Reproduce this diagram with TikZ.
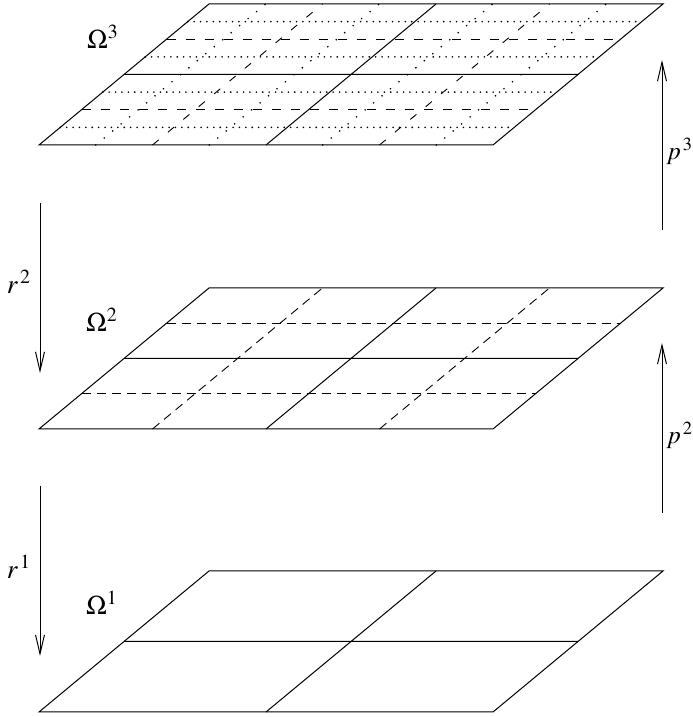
\documentclass[tikz,border=0pt,12pt]{standalone}
\usepackage{mathptmx}
\usetikzlibrary{arrows.meta}
\tikzset{
  edge/.style={line width=0.5pt},
  dashline/.style={line width=0.45pt, dash pattern=on 4.5pt off 3pt},
  dashfine/.style={line width=0.45pt, dash pattern=on 4.5pt off 5pt},
  dashslant/.style={line width=0.45pt, dash pattern=on 4pt off 6pt},
  dotline/.style={line width=0.9pt, line cap=round, dash pattern=on 0pt off 3.2pt},
  dotslant/.style={line width=0.9pt, line cap=round, dash pattern=on 0pt off 5.5pt},
  map/.style={line width=0.5pt, -{Straight Barb[length=9.5pt,width=4.5pt]}},
  lab/.style={inner sep=0pt, font=\fontsize{13.5}{16}\selectfont},
  edgelab/.style={lab, anchor=west, font=\fontsize{12.5}{15}\selectfont}
}
\begin{document}
\begin{tikzpicture}[x=0.5pt,y=0.5pt]
\useasboundingbox (0,0) rectangle (692,717);
% fine grid
\begin{scope}[shift={(19.5pt,286pt)},x={(227pt,0pt)},y={(85pt,70.5pt)}]
\foreach \t in {0.125,0.375,0.625,0.875} {
  \draw[dotline] (0,\t) -- (1,\t);
  \draw[dotslant] (\t,0) -- (\t,1);
}
\foreach \t in {0.25,0.75} {
  \draw[dashfine] (0,\t) -- (1,\t);
  \draw[dashslant] (\t,0) -- (\t,1);
}
\draw[edge] (0,0) -- (1,0) -- (1,1) -- (0,1) -- cycle;
\draw[edge] (0,0.5) -- (1,0.5) (0.5,0) -- (0.5,1);
\end{scope}
% middle grid
\begin{scope}[shift={(19.5pt,144pt)},x={(227pt,0pt)},y={(85pt,70.5pt)}]
\foreach \t in {0.25,0.75} {
  \draw[dashline] (0,\t) -- (1,\t);
  \draw[dashline] (\t,0) -- (\t,1);
}
\draw[edge] (0,0) -- (1,0) -- (1,1) -- (0,1) -- cycle;
\draw[edge] (0,0.5) -- (1,0.5) (0.5,0) -- (0.5,1);
\end{scope}
% coarse grid
\begin{scope}[shift={(19.5pt,2.5pt)},x={(227pt,0pt)},y={(85pt,70.5pt)}]
\draw[edge] (0,0) -- (1,0) -- (1,1) -- (0,1) -- cycle;
\draw[edge] (0,0.5) -- (1,0.5) (0.5,0) -- (0.5,1);
\end{scope}
\node[lab] (om3) at (103,680) {$\Omega^3$};
\node[lab] (om2) at (102,397) {$\Omega^2$};
\node[lab] (om1) at (102,114) {$\Omega^1$};
% restriction
\coordinate (r2a) at (40,514);
\coordinate (r2b) at (40,344);
\coordinate (r1a) at (40,231);
\coordinate (r1b) at (40,61);
\draw[map] (r2a) -- (r2b);
\draw[map] (r1a) -- (r1b);
\node[lab] (r2) at (19,435) {$r^{\,2}$};
\node[lab] (r1) at (19,150) {$r^{\,1}$};
% prolongation
\coordinate (p3a) at (662,487);
\coordinate (p3b) at (662,657);
\coordinate (p2a) at (662,204);
\coordinate (p2b) at (662,374);
\draw[map] (p3a) -- (p3b);
\draw[map] (p2a) -- (p2b);
\node[edgelab] (p3) at (666,566) {$p^{\,3}$};
\node[edgelab] (p2) at (666,282) {$p^{\,2}$};
\end{tikzpicture}
\end{document}
